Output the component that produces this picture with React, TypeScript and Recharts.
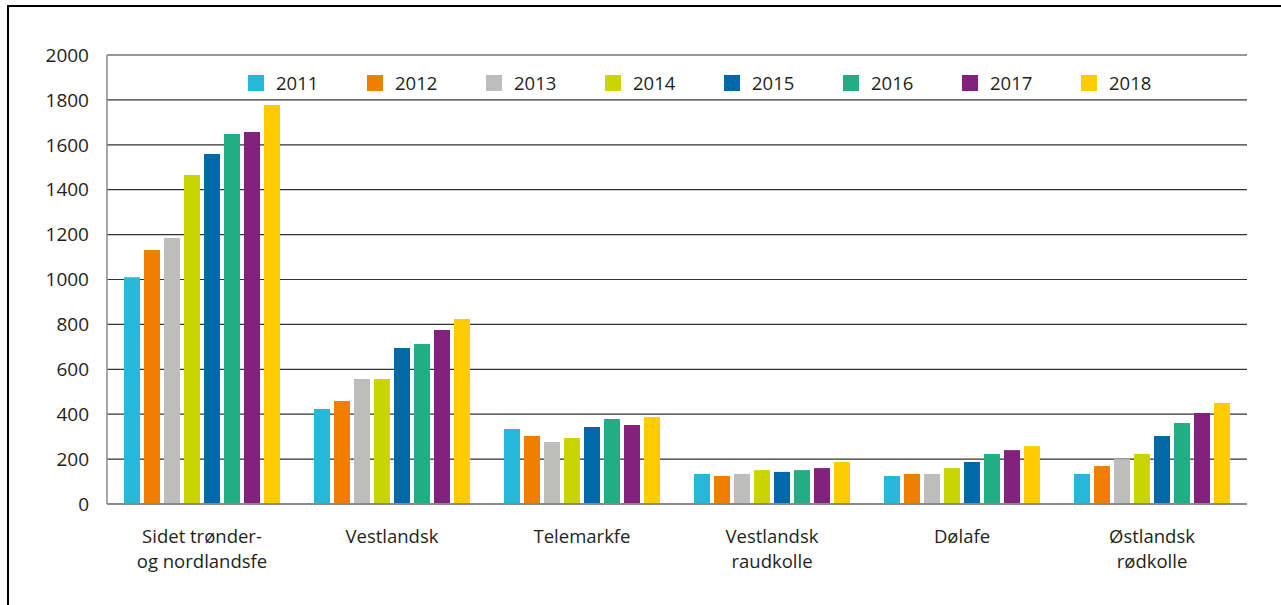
import React from "react";
import { BarChart, Bar, XAxis, YAxis, CartesianGrid, Legend } from "recharts";

const categories = [
  "Sidet trønder-\nog nordlandsfe",
  "Vestlandsk",
  "Telemarkfe",
  "Vestlandsk\nraudkolle",
  "Dølafe",
  "Østlandsk\nrødkolle",
];

const years = ["2011", "2012", "2013", "2014", "2015", "2016", "2017", "2018"];
const colors = ["#25b8da", "#f07f00", "#bdbdbb", "#c9d400", "#0069aa", "#22ad85", "#83217f", "#ffcc00"];

const v2011 = [1010, 423, 334, 134, 125, 134];
const v2012 = [1131, 459, 303, 125, 134, 169];
const v2013 = [1185, 557, 276, 134, 134, 200];
const v2014 = [1465, 557, 294, 151, 160, 223];
const v2015 = [1559, 695, 343, 143, 187, 303];
const v2016 = [1648, 713, 379, 151, 223, 361];
const v2017 = [1657, 775, 352, 160, 240, 405];
const v2018 = [1777, 824, 388, 187, 258, 450];

const yTicks = [0, 200, 400, 600, 800, 1000, 1200, 1400, 1600, 1800, 2000];

const seriesValues = [v2011, v2012, v2013, v2014, v2015, v2016, v2017, v2018];

const data = categories.map((name, i) => {
  const row: Record<string, string | number> = { name };
  years.forEach((y, j) => {
    row[y] = seriesValues[j][i];
  });
  return row;
});

const FONT = "'Open Sans', sans-serif";
const TEXT = "#231f20";

function CategoryTick({ x, y, payload }: any) {
  const lines = String(payload.value).split("\n");
  return (
    <text x={x} y={y} textAnchor="middle" fill={TEXT} fontSize={18.5} fontFamily={FONT}>
      {lines.map((line, i) => (
        <tspan key={i} x={x} dy={i === 0 ? 31 : 25}>
          {line}
        </tspan>
      ))}
    </text>
  );
}

function YearLegend({ payload }: any) {
  return (
    <div style={{ display: "flex", fontFamily: FONT, fontSize: 18.5, color: TEXT }}>
      {(payload || []).map((entry: any) => (
        <div key={entry.value} style={{ width: 119, display: "flex", alignItems: "center" }}>
          <span style={{ width: 16, height: 16, background: entry.color, display: "inline-block" }} />
          <span style={{ marginLeft: 12, lineHeight: "16px" }}>{entry.value}</span>
        </div>
      ))}
    </div>
  );
}

export default function App() {
  return (
    <div style={{ position: "absolute", left: 0, top: 0, width: 1281, height: 605, overflow: "hidden", background: "#fff" }}>
      <div
        style={{
          position: "absolute",
          left: 7,
          top: 5,
          width: 1400,
          height: 800,
          borderTop: "2.5px solid #000",
          borderLeft: "2.5px solid #000",
        }}
      />
      <BarChart
        width={1281}
        height={605}
        data={data}
        margin={{ top: 55, right: 34, left: 7, bottom: 0 }}
        barSize={16}
        barGap={4}
        style={{ position: "absolute", left: 0, top: 0 }}
      >
        <CartesianGrid horizontal vertical={false} stroke="#333" strokeWidth={1.2} />
        <XAxis
          dataKey="name"
          height={101}
          interval={0}
          tickLine={false}
          axisLine={{ stroke: "#8a8a8a", strokeWidth: 2 }}
          tick={<CategoryTick />}
        />
        <YAxis
          width={100}
          domain={[0, 2000]}
          ticks={yTicks}
          tickLine={false}
          tickSize={0}
          tickMargin={18}
          axisLine={{ stroke: "#8a8a8a", strokeWidth: 1.5 }}
          tick={{ fill: TEXT, fontSize: 19, fontFamily: FONT }}
        />
        <Legend
          layout="horizontal"
          verticalAlign="middle"
          align="center"
          content={<YearLegend />}
          wrapperStyle={{ position: "absolute", top: 75, left: 248, width: 1000 }}
        />
        {years.map((y, j) => (
          <Bar key={y} dataKey={y} fill={colors[j]} isAnimationActive={false} />
        ))}
      </BarChart>
    </div>
  );
}
